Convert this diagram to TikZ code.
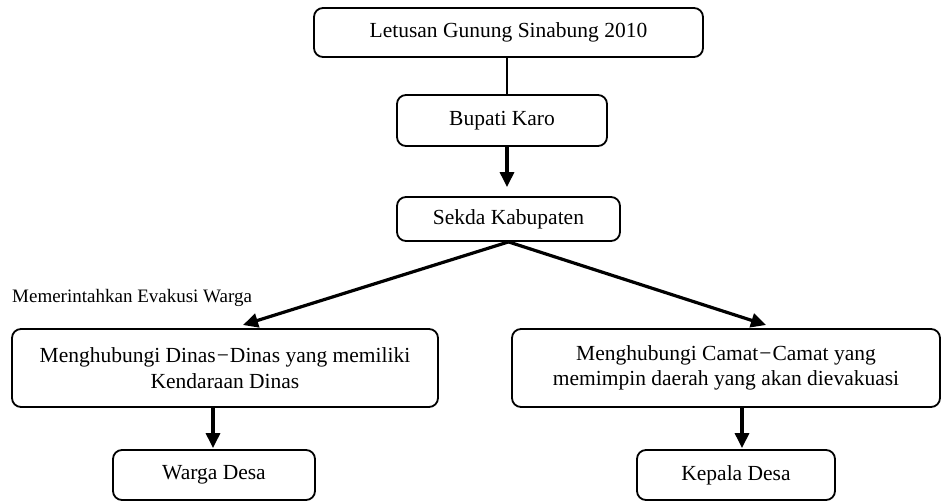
\documentclass[tikz,border=0pt]{standalone}
\usepackage{fontspec}
\setmainfont{Liberation Serif}
\usetikzlibrary{arrows.meta,calc}
\begin{document}
\begin{tikzpicture}[x=1pt,y=-1pt,
  box/.style={draw=black,line width=1.8pt,rounded corners=9pt,align=center,inner sep=0pt,
    font=\fontsize{21.5}{25.5}\selectfont},
  thinline/.style={draw=black,line width=1.2pt},
  arr/.style={draw=black,line width=3.2pt,-{Triangle[length=15pt,width=14pt]}}]
\path[use as bounding box] (0,0) rectangle (942,502);
\node[box,minimum width=389pt,minimum height=49pt] (top) at (508.5,32.5) {Letusan Gunung Sinabung 2010};
\node[box,minimum width=210pt,minimum height=51pt] (bupati) at (502,120.5) {Bupati Karo};
\node[box,minimum width=223pt,minimum height=44pt] (sekda) at (508.5,219) {Sekda Kabupaten};
\node[box,minimum width=426pt,minimum height=78pt] (dinas) at (225,368) {Menghubungi Dinas{\kern1pt}\textminus{\kern1pt}Dinas yang memiliki\\Kendaraan Dinas};
\node[box,minimum width=428pt,minimum height=78pt] (camat) at (726,368) {Menghubungi Camat{\kern1pt}\textminus{\kern1pt}Camat yang\\memimpin daerah yang akan dievakuasi};
\node[box,minimum width=202pt,minimum height=50pt] (warga) at (214,475) {Warga Desa};
\node[box,minimum width=198pt,minimum height=50pt] (kepala) at (736,475) {Kepala Desa};
\node[anchor=west,inner sep=0pt,font=\fontsize{19}{22}\selectfont] (lbl) at (12,298) {Memerintahkan Evakusi Warga};
\coordinate (tipL) at (243,325);
\coordinate (tipR) at (766,325);
\draw[thinline] (top.south -| 507,0) -- (bupati.north -| 507,0);
\draw[arr] (bupati.south -| 507,0) -- ($(sekda.north -| 507,0)+(0,-9)$);
\draw[arr] (sekda.south) -- (tipL);
\draw[arr] (sekda.south) -- (tipR);
\draw[arr] (dinas.south -| 213,0) -- ($(warga.north -| 213,0)+(0,-1)$);
\draw[arr] (camat.south -| 742,0) -- ($(kepala.north -| 742,0)+(0,-1)$);
\end{tikzpicture}
\end{document}
